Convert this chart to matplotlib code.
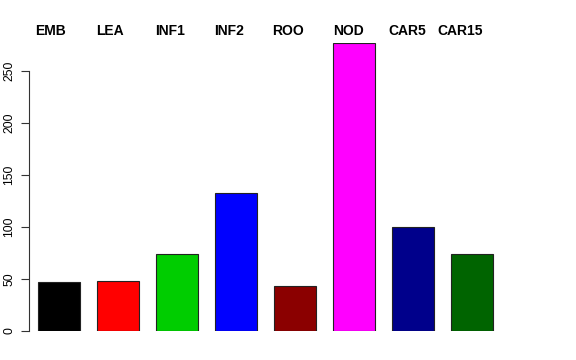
import numpy as np
import matplotlib
matplotlib.use("Agg")
import matplotlib.pyplot as plt

plt.rcParams["font.family"] = ["Liberation Sans", "DejaVu Sans"]

# Data
tissues = ["EMB", "LEA", "INF1", "INF2", "ROO", "NOD", "CAR5", "CAR15"]
counts = [47, 48, 74, 133, 43, 277, 100, 74]
colours = ["#000000", "#FF0000", "#00CD00", "#0000FF",
           "#8B0000", "#FF00FF", "#00008B", "#006400"]
label_x = [35, 96, 155, 214, 272, 333, 388, 437]   # left edge of label, px

W, H = 576, 360
fig = plt.figure(figsize = (W / 100, H / 100), dpi = 100)

# axes placed in pixels: x from 29 to 547, y from 331 (zero) up to 43
left, right, bottom, top = 29, 547, 331, 43
ax = fig.add_axes([left / W, 1 - bottom / H, (right - left) / W, (bottom - top) / H])

x = np.arange(len(tissues))
ax.bar(x, counts, width = 0.71, color = colours, edgecolor = "#222222", linewidth = 0.8)

ax.set_xlim((left - 59) / 59, (right - 59) / 59)
ax.set_ylim(0, (bottom - top) / 1.04)

ax.set_xticks([])
ax.set_yticks([0, 50, 100, 150, 200, 250])
ax.set_yticklabels(["0", "50", "100", "150", "200", "250"], rotation = 90, va = "center", fontsize = 8.8)
ax.tick_params(axis = "y", length = 6, width = 0.8, pad = 4, color = "#333333")

for side in ["top", "right", "bottom"]:
    ax.spines[side].set_visible(False)
ax.spines["left"].set_bounds(0, 250)
ax.spines["left"].set_color("#333333")
ax.spines["left"].set_linewidth(0.8)

for name, lx in zip(tissues, label_x):
    fig.text(lx / W, 1 - 31 / H, name, fontsize = 10, fontweight = "bold", ha = "left", va = "center")

plt.savefig("out.png", dpi = 100)
plt.close()
